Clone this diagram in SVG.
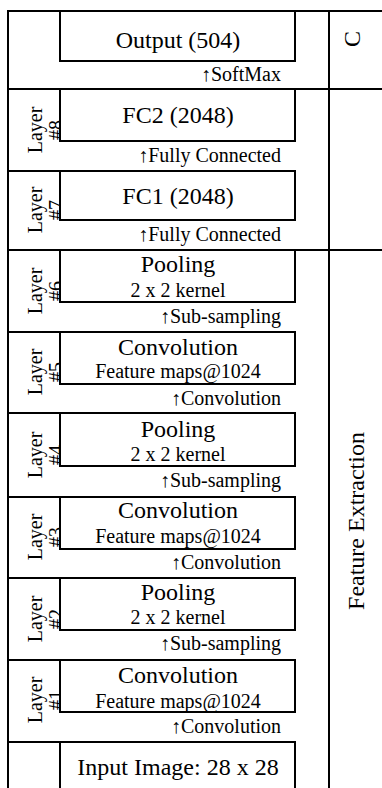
<svg xmlns="http://www.w3.org/2000/svg" width="382" height="788" viewBox="0 0 382 788">
<style>
  text { font-family: "Liberation Serif", "Times New Roman", serif; fill: #000; }
  .big { font-size: 24px; text-anchor: middle; }
  .sub { font-size: 20px; text-anchor: middle; }
  .ann { font-size: 20px; text-anchor: end; }
  .lay { font-size: 20px; text-anchor: middle; }
  .box { fill: #fff; stroke: #000; stroke-width: 2; }
  .grid line { stroke: #000; stroke-width: 2; }
</style>
<rect width="382" height="788" fill="#fff"/>
<g id="grid" class="grid">
  <line x1="7" y1="11" x2="382" y2="11"/>
  <line x1="8" y1="10" x2="8" y2="788"/>
  <line x1="329" y1="10" x2="329" y2="788"/>
  <line x1="7" y1="89" x2="382" y2="89"/>
  <line x1="7" y1="250" x2="382" y2="250"/>
  <line x1="7" y1="171" x2="295" y2="171"/>
  <line x1="7" y1="332" x2="295" y2="332"/>
  <line x1="7" y1="413" x2="295" y2="413"/>
  <line x1="7" y1="497" x2="295" y2="497"/>
  <line x1="7" y1="578" x2="295" y2="578"/>
  <line x1="7" y1="660" x2="295" y2="660"/>
  <line x1="7" y1="742" x2="295" y2="742"/>
</g>
<g id="labels">
  <text class="lay" transform="translate(42,130) rotate(-90)">Layer</text>
  <text class="lay" transform="translate(63,130) rotate(-90)">#8</text>
  <text class="lay" transform="translate(42,210) rotate(-90)">Layer</text>
  <text class="lay" transform="translate(63,210) rotate(-90)">#7</text>
  <text class="lay" transform="translate(42,291) rotate(-90)">Layer</text>
  <text class="lay" transform="translate(63,291) rotate(-90)">#6</text>
  <text class="lay" transform="translate(42,372) rotate(-90)">Layer</text>
  <text class="lay" transform="translate(63,372) rotate(-90)">#5</text>
  <text class="lay" transform="translate(42,455) rotate(-90)">Layer</text>
  <text class="lay" transform="translate(63,455) rotate(-90)">#4</text>
  <text class="lay" transform="translate(42,537) rotate(-90)">Layer</text>
  <text class="lay" transform="translate(63,537) rotate(-90)">#3</text>
  <text class="lay" transform="translate(42,619) rotate(-90)">Layer</text>
  <text class="lay" transform="translate(63,619) rotate(-90)">#2</text>
  <text class="lay" transform="translate(42,700) rotate(-90)">Layer</text>
  <text class="lay" transform="translate(63,700) rotate(-90)">#1</text>
  <text font-size="24" transform="translate(360,47) rotate(-90)">C</text>
  <text font-size="24" text-anchor="middle" transform="translate(364,521) rotate(-90)">Feature Extraction</text>
</g>
<g id="output">
  <rect class="box" x="60" y="11" width="235" height="50"/>
  <text class="big" x="178" y="48">Output (504)</text>
  <text class="ann" x="281" y="81">↑SoftMax</text>
</g>
<g id="fc2">
  <rect class="box" x="60" y="89" width="235" height="52"/>
  <text class="big" x="178" y="123">FC2 (2048)</text>
  <text class="ann" x="281" y="162">↑Fully Connected</text>
</g>
<g id="fc1">
  <rect class="box" x="60" y="171" width="235" height="49"/>
  <text class="big" x="178" y="204">FC1 (2048)</text>
  <text class="ann" x="281" y="241">↑Fully Connected</text>
</g>
<g id="pool6">
  <rect class="box" x="60" y="250" width="235" height="52"/>
  <text class="big" x="178" y="272">Pooling</text>
  <text class="sub" x="178" y="297">2 x 2 kernel</text>
  <text class="ann" x="281" y="323">↑Sub-sampling</text>
</g>
<g id="conv5">
  <rect class="box" x="60" y="332" width="235" height="52"/>
  <text class="big" x="178" y="355">Convolution</text>
  <text class="sub" x="178" y="378">Feature maps@1024</text>
  <text class="ann" x="281" y="405">↑Convolution</text>
</g>
<g id="pool4">
  <rect class="box" x="60" y="413" width="235" height="53"/>
  <text class="big" x="178" y="437">Pooling</text>
  <text class="sub" x="178" y="461">2 x 2 kernel</text>
  <text class="ann" x="281" y="487">↑Sub-sampling</text>
</g>
<g id="conv3">
  <rect class="box" x="60" y="497" width="235" height="52"/>
  <text class="big" x="178" y="518">Convolution</text>
  <text class="sub" x="178" y="543">Feature maps@1024</text>
  <text class="ann" x="281" y="569">↑Convolution</text>
</g>
<g id="pool2">
  <rect class="box" x="60" y="578" width="235" height="52"/>
  <text class="big" x="178" y="600">Pooling</text>
  <text class="sub" x="178" y="624">2 x 2 kernel</text>
  <text class="ann" x="281" y="650">↑Sub-sampling</text>
</g>
<g id="conv1">
  <rect class="box" x="60" y="660" width="235" height="52"/>
  <text class="big" x="178" y="683">Convolution</text>
  <text class="sub" x="178" y="708">Feature maps@1024</text>
  <text class="ann" x="281" y="733">↑Convolution</text>
</g>
<g id="input">
  <rect class="box" x="60" y="742" width="235" height="50"/>
  <text class="big" x="178" y="775">Input Image: 28 x 28</text>
</g>
</svg>
